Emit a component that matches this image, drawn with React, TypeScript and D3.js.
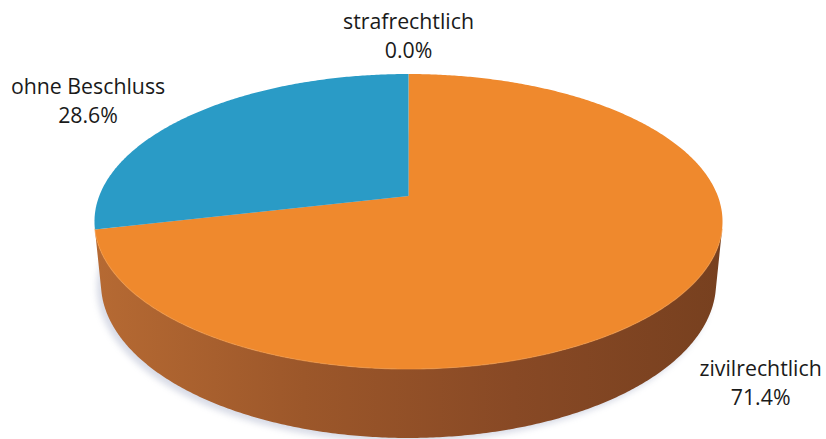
import React from "react";
import * as d3 from "d3";

// ---- data ----
const categories = ["strafrechtlich", "zivilrechtlich", "ohne Beschluss"];
const values = [0.0, 71.4, 28.6];
const percentLabels = ["0.0%", "71.4%", "28.6%"];

// ---- styles / layout ----
const W = 826;
const H = 439;
const topColors: Record<string, string> = {
  strafrechtlich: "#A5A5A5",
  zivilrechtlich: "#EF892D",
  "ohne Beschluss": "#2A9BC6",
};
const sideStops: Record<string, string[]> = {
  strafrechtlich: ["#8a8a8a", "#6a6a6a"],
  zivilrechtlich: ["#B66A33", "#9C572A", "#884925", "#77401F"],
  "ohne Beschluss": ["#237da0", "#1b6584"],
};
// label offsets relative to the projected outer edge point of each slice
const labelNudge: Record<string, [number, number]> = {
  strafrechtlich: [0, -45],
  zivilrechtlich: [87, 14],
  "ohne Beschluss": [-102, -22],
};

// perspective camera
const cx = 408.5;
const cy = 196;
const D = 5.128;
const F = 1586;
const sinT = 0.4627;
const cosT = Math.sqrt(1 - sinT * sinT);
const depthH = 0.226;

function project(theta: number, r: number, z: number): [number, number] {
  const X = r * Math.sin(theta);
  const Y = r * Math.cos(theta);
  const yc = Y * sinT + z * cosT;
  const dep = D + Y * cosT - z * sinT;
  return [cx + (F * X) / dep, cy - (F * yc) / dep];
}

function arcPoints(a0: number, a1: number, z: number): [number, number][] {
  const n = Math.max(2, Math.ceil(Math.abs(a1 - a0) / (Math.PI / 360)) + 1);
  const pts: [number, number][] = [];
  for (let i = 0; i < n; i++) {
    const t = a0 + ((a1 - a0) * i) / (n - 1);
    pts.push(project(t, 1, z));
  }
  return pts;
}

const line = d3.line<[number, number]>().x((d) => d[0]).y((d) => d[1]);

export default function App() {
  const arcs = d3
    .pie<number>()
    .sort(null)
    .value((d) => d)
    .startAngle(0)
    .endAngle(2 * Math.PI)(values);

  const vMin = Math.acos(-1 / (D * cosT));
  const vMax = 2 * Math.PI - vMin;

  const bottomOutline = line(arcPoints(0, 2 * Math.PI, -depthH)) + "Z";

  const walls = arcs
    .map((a, i) => {
      const lo = Math.max(a.startAngle, vMin);
      const hi = Math.min(a.endAngle, vMax);
      if (hi <= lo) return null;
      const pts = [...arcPoints(lo, hi, 0), ...arcPoints(hi, lo, -depthH)];
      return { i, d: line(pts) + "Z", rim: line(arcPoints(lo, hi, 0)) };
    })
    .filter(Boolean) as { i: number; d: string; rim: string }[];

  const tops = arcs
    .map((a, i) => {
      if (a.endAngle - a.startAngle <= 0) return null;
      const pts: [number, number][] = [[cx, cy], ...arcPoints(a.startAngle, a.endAngle, 0)];
      return { i, d: line(pts) + "Z" };
    })
    .filter(Boolean) as { i: number; d: string }[];

  const labels = arcs.map((a, i) => {
    const mid = (a.startAngle + a.endAngle) / 2;
    const front = Math.cos(mid) < 0;
    const [px, py] = project(mid, 1, front ? -depthH : 0);
    const [dx, dy] = labelNudge[categories[i]];
    return { i, x: px + dx, y: py + dy };
  });

  return (
    <svg
      width={W}
      height={H}
      viewBox={`0 0 ${W} ${H}`}
      style={{ position: "absolute", left: 0, top: 0, background: "#fff" }}
    >
      <defs>
        <filter id="shadowBlur" x="-10%" y="-10%" width="120%" height="130%">
          <feGaussianBlur stdDeviation="3" />
        </filter>
        {categories.map((cat, i) => (
          <linearGradient
            key={cat}
            id={`side-${i}`}
            gradientUnits="userSpaceOnUse"
            x1={cx - 315}
            x2={cx + 315}
            y1={0}
            y2={0}
          >
            {sideStops[cat].map((col, k, arr) => (
              <stop key={k} offset={k / (arr.length - 1)} stopColor={col} />
            ))}
          </linearGradient>
        ))}
      </defs>

      <path
        d={bottomOutline}
        transform="translate(-4,4)"
        fill="#8f98b8"
        opacity={0.35}
        filter="url(#shadowBlur)"
      />

      {walls.map((w) => (
        <path key={`w${w.i}`} d={w.d} fill={`url(#side-${w.i})`} />
      ))}

      {tops.map((t) => (
        <path key={`t${t.i}`} d={t.d} fill={topColors[categories[t.i]]} />
      ))}

      {walls.map((w) => (
        <path key={`r${w.i}`} d={w.rim} fill="none" stroke="#F59A45" strokeOpacity={0.6} strokeWidth={1.2} />
      ))}

      {labels.map((l) => (
        <text
          key={`l${l.i}`}
          x={l.x}
          y={l.y}
          textAnchor="middle"
          fontFamily="'Open Sans', Lato, sans-serif"
          fontSize={21.3}
          fill="#1a1a1a"
        >
          <tspan x={l.x} dy={0}>{categories[l.i]}</tspan>
          <tspan x={l.x} dy={29}>{percentLabels[l.i]}</tspan>
        </text>
      ))}
    </svg>
  );
}
